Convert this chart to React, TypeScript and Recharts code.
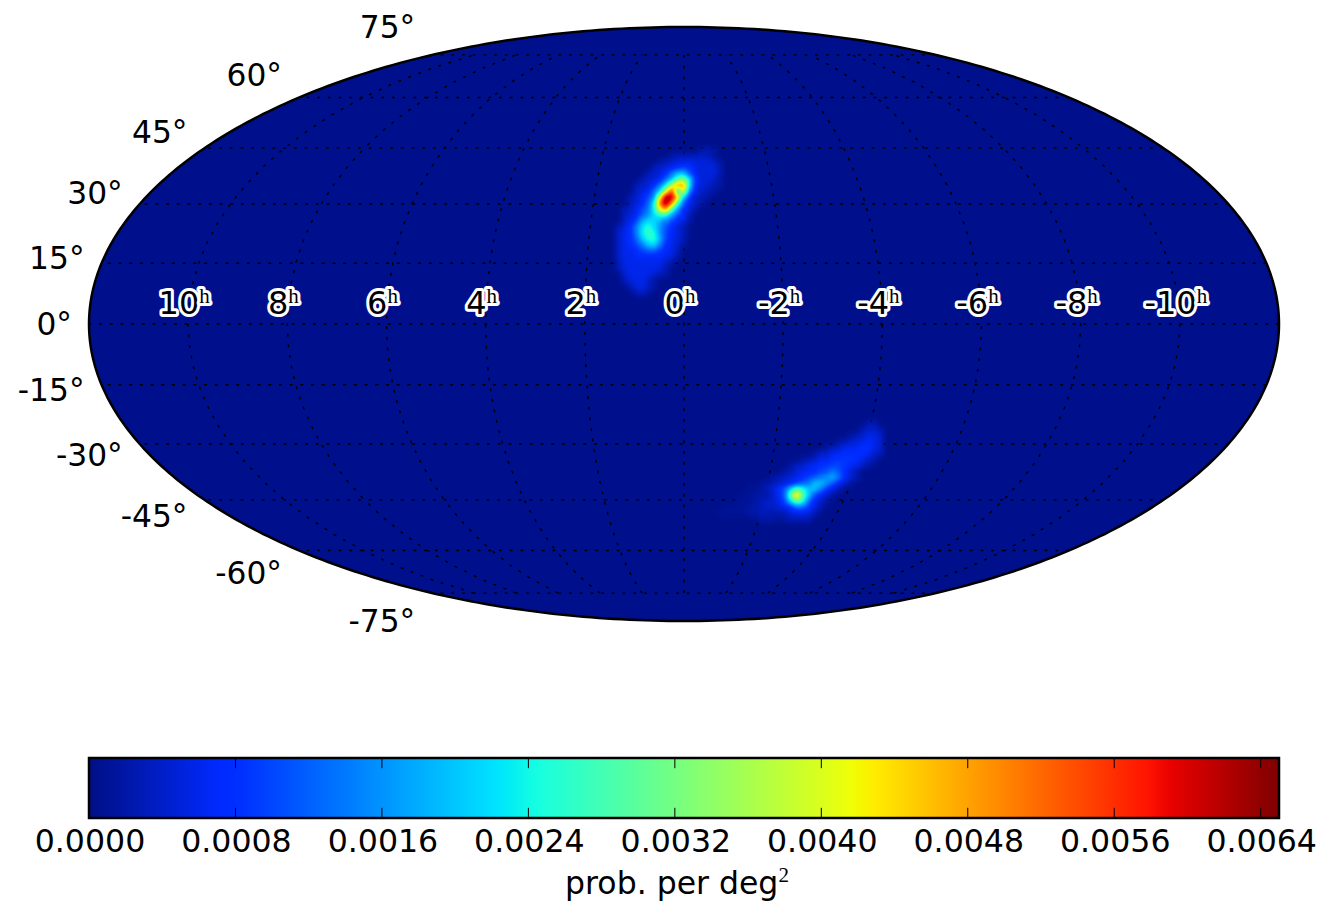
import React from 'react';
import { Area, ComposedChart, Label, Line, ReferenceArea, Scatter, XAxis, YAxis } from 'recharts';

// Axis tick lists
const decTicks = [75, 60, 45, 30, 15, 0, -15, -30, -45, -60, -75];
const raTicks = [10, 8, 6, 4, 2, 0, -2, -4, -6, -8, -10];
const barTicks = [0, 0.0008, 0.0016, 0.0024, 0.0032, 0.004, 0.0048, 0.0056, 0.0064];
const BAR_MAX = 0.0065;

// Probability read from the sky map, in units of 1e-4 per deg^2. Each row is one grid row,
// beginning at the column given in the matching *Start list.
const northStart = [14, 9, 7, 6, 5, 4, 3, 3, 2, 2, 1, 1, 1, 0, 0, 0, 0, 0, 0, 0, 0, 1, 1, 2, 3];
const northRows = [
  [2, 3, 2],
  [2, 3, 3, 3, 3, 4, 3, 2],
  [2, 3, 4, 5, 5, 6, 5, 5, 5, 4, 2],
  [3, 4, 5, 6, 8, 10, 8, 6, 5, 5, 5, 3],
  [3, 4, 5, 8, 14, 20, 20, 11, 6, 5, 5, 5, 3],
  [3, 4, 5, 7, 13, 20, 30, 34, 22, 8, 5, 5, 4, 2],
  [3, 4, 5, 8, 14, 24, 38, 50, 48, 22, 7, 5, 4, 3, 2],
  [4, 5, 7, 13, 22, 40, 56, 24, 42, 14, 6, 4, 3, 2],
  [3, 4, 7, 10, 16, 42, 64, 62, 44, 20, 8, 4, 3, 2],
  [3, 5, 7, 12, 24, 52, 66, 50, 28, 12, 6, 4, 2],
  [3, 4, 6, 10, 14, 24, 42, 50, 30, 16, 8, 5, 2],
  [3, 5, 7, 12, 16, 22, 26, 26, 16, 11, 7, 3],
  [4, 6, 10, 18, 22, 22, 18, 14, 11, 7, 5, 2],
  [3, 5, 8, 14, 22, 26, 22, 16, 11, 7, 5, 3],
  [4, 6, 8, 14, 23, 27, 25, 16, 10, 7, 5, 3],
  [4, 6, 8, 12, 20, 25, 26, 18, 10, 6, 5, 3],
  [4, 6, 8, 10, 14, 20, 22, 14, 8, 6, 4, 2],
  [4, 6, 6, 8, 10, 12, 12, 9, 7, 6, 3],
  [4, 6, 6, 7, 7, 7, 7, 7, 6, 5, 2],
  [3, 6, 6, 6, 6, 6, 6, 6, 4, 2],
  [3, 5, 6, 6, 6, 6, 6, 5, 3],
  [4, 6, 6, 6, 6, 4, 3, 2],
  [3, 5, 6, 6, 4, 2],
  [3, 5, 6, 4, 2],
  [3, 4, 2],
];
const southStart = [27, 26, 24, 22, 20, 18, 16, 14, 13, 11, 9, 7, 6, 5, 3, 2, 8];
const southRows = [
  [3, 3],
  [3, 4, 4, 3],
  [2, 3, 4, 6, 6, 4],
  [2, 3, 4, 5, 6, 7, 6, 4],
  [2, 3, 4, 6, 6, 7, 8, 8, 6, 4],
  [2, 4, 4, 6, 7, 8, 8, 8, 8, 7, 4, 3],
  [2, 3, 4, 6, 6, 8, 9, 9, 9, 8, 6, 4, 3],
  [2, 4, 4, 6, 7, 8, 9, 10, 10, 9, 7, 6, 4, 2],
  [2, 3, 5, 6, 7, 8, 10, 11, 14, 11, 8, 5, 3],
  [2, 3, 4, 5, 6, 8, 10, 12, 14, 16, 18, 14, 8, 5, 3],
  [1, 2, 3, 4, 5, 7, 10, 12, 14, 20, 20, 16, 12, 7, 4, 2],
  [1, 1, 2, 3, 5, 8, 12, 22, 30, 26, 20, 20, 14, 9, 5, 3],
  [1, 1, 2, 2, 2, 4, 7, 13, 32, 46, 30, 20, 11, 7, 4, 2],
  [1, 1, 1, 2, 3, 4, 4, 6, 11, 22, 32, 26, 13, 7, 4, 2],
  [1, 1, 1, 1, 2, 2, 3, 4, 4, 5, 6, 9, 13, 13, 9, 5, 3],
  [1, 1, 1, 1, 1, 2, 2, 3, 3, 2, 3, 3, 5, 6, 6, 5, 3],
  [1, 2, 2, 2, 1, 2, 3, 3, 3, 3],
];
const GRID_STEP = 0.02;
const northOrigin = { x: -0.22, y: 0.586 };
const southOrigin = { x: 0.08, y: -0.337 };
const MAX_UNITS = 65;

// Colour map breakpoints: [position, value]
const jetRed = [[0, 0], [0.35, 0], [0.66, 1], [0.89, 1], [1, 0.5]];
const jetGreen = [[0, 0.06], [0.125, 0.18], [0.375, 1], [0.64, 1], [0.91, 0], [1, 0]];
const jetBlue = [[0, 0.52], [0.11, 1], [0.34, 1], [0.65, 0], [1, 0]];
const lerp = (seg: number[][], t: number) => {
  for (let i = 1; i < seg.length; i++) {
    if (t <= seg[i][0]) {
      const f = (t - seg[i - 1][0]) / (seg[i][0] - seg[i - 1][0]);
      return seg[i - 1][1] + f * (seg[i][1] - seg[i - 1][1]);
    }
  }
  return seg[seg.length - 1][1];
};
const positions = Array.from({ length: 101 }, (_, i) => i / 100);
const table = (seg: number[][]) => positions.map((t) => lerp(seg, t).toFixed(3)).join(' ');
const hex = (t: number) =>
  `rgb(${[jetRed, jetGreen, jetBlue].map((s) => Math.round(lerp(s, t) * 255)).join(',')})`;

// Mollweide projection used for the graticule, with x in [-2, 2] and y in [-1, 1]
function auxAngle(latDeg: number) {
  const phi = (latDeg * Math.PI) / 180;
  let t = phi;
  for (let i = 0; i < 30; i++) t -= (2 * t + Math.sin(2 * t) - Math.PI * Math.sin(phi)) / (2 + 2 * Math.cos(2 * t));
  return t;
}
const project = (hours: number, lat: number) => {
  const t = auxAngle(lat);
  return { x: (-hours / 6) * Math.cos(t), y: Math.sin(t) };
};

const outline = Array.from({ length: 241 }, (_, i) => {
  const a = Math.PI - (i * Math.PI) / 240;
  return { x: 2 * Math.cos(a), band: [-Math.sin(a), Math.sin(a)] };
});
const parallels = decTicks.map((lat) => [project(-12, lat), project(12, lat)]);
const meridians = raTicks.map((h) =>
  Array.from({ length: 31 }, (_, i) => project(h, -75 + i * 5)),
);
const cells = (rows: number[][], starts: number[], o: { x: number; y: number }) =>
  rows.flatMap((row, j) =>
    row.map((v, i) => ({ x: o.x + (starts[j] + i) * GRID_STEP, y: o.y - j * GRID_STEP, v })),
  );
const heatCells = [...cells(northRows, northStart, northOrigin), ...cells(southRows, southStart, southOrigin)];
const decLabels = decTicks.map((lat) => ({ ...project(12, lat), lat }));
const raLabels = raTicks.map((h) => ({ ...project(h, 0), h }));

const barBand = [
  { v: 0, band: [0, 1] },
  { v: BAR_MAX, band: [0, 1] },
];
const barMarks = barTicks.slice(1).flatMap((t) => [
  [{ v: t, y: 0 }, { v: t, y: 0.17 }],
  [{ v: t, y: 0.83 }, { v: t, y: 1 }],
]);

const FONT = '"DejaVu Sans", sans-serif';

const HeatCell = (p: any) => {
  const g = Math.round((p.payload.v / MAX_UNITS) * 255);
  return <rect x={p.cx - 3.2} y={p.cy - 3.2} width={6.4} height={6.4} fill={`rgb(${g},${g},${g})`} />;
};
const DecLabel = (p: any) => (
  <text x={p.cx - 17} y={p.cy - p.payload.lat * 0.37 + 11} textAnchor="end" fontSize={31.3} fontFamily={FONT} fill="#000">
    {p.payload.lat}°
  </text>
);
const RaLabel = (p: any) => (
  <text
    x={p.cx - 4}
    y={p.cy - 10}
    textAnchor="middle"
    fontSize={32}
    fontFamily={FONT}
    fill="#000"
    stroke="#fff"
    strokeWidth={6}
    strokeLinejoin="round"
    paintOrder="stroke"
  >
    {p.payload.h}
    <tspan fontSize={21} dy={-11} fontFamily='"Liberation Serif", serif'>h</tspan>
  </text>
);
const BarTitle = () => (
  <text x={677} y={194} textAnchor="middle" fontSize={31.5} fontFamily={FONT} fill="#000">
    prob. per deg
    <tspan fontSize={21} dy={-12} fontFamily='"Liberation Serif", serif'>2</tspan>
  </text>
);

export default function App() {
  return (
    <div style={{ position: 'absolute', left: 0, top: 0, width: 1319, height: 902, background: '#fff' }}>
      <style>{'.heat-layer{filter:url(#jetmap)}'}</style>
      <div style={{ position: 'absolute', left: 0, top: 0 }}>
        <ComposedChart width={1319} height={700} data={outline} margin={{ top: 27, left: 89, right: 40, bottom: 79 }}>
          <defs>
            <filter id="jetmap" x="-20%" y="-20%" width="140%" height="140%" colorInterpolationFilters="sRGB">
              <feGaussianBlur stdDeviation="2.6" />
              <feComponentTransfer>
                <feFuncR type="table" tableValues={table(jetRed)} />
                <feFuncG type="table" tableValues={table(jetGreen)} />
                <feFuncB type="table" tableValues={table(jetBlue)} />
              </feComponentTransfer>
            </filter>
          </defs>
          <XAxis dataKey="x" type="number" domain={[-2, 2]} hide />
          <YAxis type="number" domain={[-1, 1]} hide />
          <Area dataKey="band" type="linear" fill="#000f8c" fillOpacity={1} stroke="none" isAnimationActive={false} />
          <Scatter className="heat-layer" data={heatCells} dataKey="y" shape={HeatCell} isAnimationActive={false} />
          {parallels.map((d, i) => (
            <Line key={`p${i}`} data={d} dataKey="y" dot={false} stroke="#000" strokeWidth={1.4} strokeDasharray="3 7.7" isAnimationActive={false} />
          ))}
          {meridians.map((d, i) => (
            <Line key={`m${i}`} data={d} dataKey="y" dot={false} stroke="#000" strokeWidth={1.4} strokeDasharray="3 7.7" isAnimationActive={false} />
          ))}
          <Area dataKey="band" type="linear" fill="none" stroke="#000" strokeWidth={2.5} isAnimationActive={false} />
          <Scatter data={decLabels} dataKey="y" shape={DecLabel} isAnimationActive={false} />
          <Scatter data={raLabels} dataKey="y" shape={RaLabel} isAnimationActive={false} />
        </ComposedChart>
      </div>
      <div style={{ position: 'absolute', left: 0, top: 700 }}>
        <ComposedChart width={1319} height={202} data={barBand} margin={{ top: 58, left: 89, right: 40, bottom: 0 }}>
          <defs>
            <linearGradient id="jetbar" x1="0" y1="0" x2="1" y2="0">
              {positions.map((o) => (
                <stop key={o} offset={o} stopColor={hex(o)} />
              ))}
            </linearGradient>
          </defs>
          <XAxis
            dataKey="v"
            type="number"
            domain={[0, BAR_MAX]}
            ticks={barTicks}
            interval={0}
            tickFormatter={(t: number) => t.toFixed(4)}
            axisLine={false}
            tickLine={false}
            tickSize={0}
            tickMargin={12}
            height={84}
            tick={{ fontSize: 31.6, fontFamily: FONT, fill: '#000', dx: 1 }}
          >
            <Label content={BarTitle} />
          </XAxis>
          <YAxis type="number" domain={[0, 1]} hide />
          <Area dataKey="band" type="linear" fill="url(#jetbar)" fillOpacity={1} stroke="none" isAnimationActive={false} />
          {barMarks.map((d, i) => (
            <Line key={i} data={d} dataKey="y" dot={false} stroke="#000" strokeWidth={1} isAnimationActive={false} />
          ))}
          <ReferenceArea x1={0} x2={BAR_MAX} y1={0} y2={1} fill="none" stroke="#000" strokeWidth={2.5} />
        </ComposedChart>
      </div>
    </div>
  );
}
